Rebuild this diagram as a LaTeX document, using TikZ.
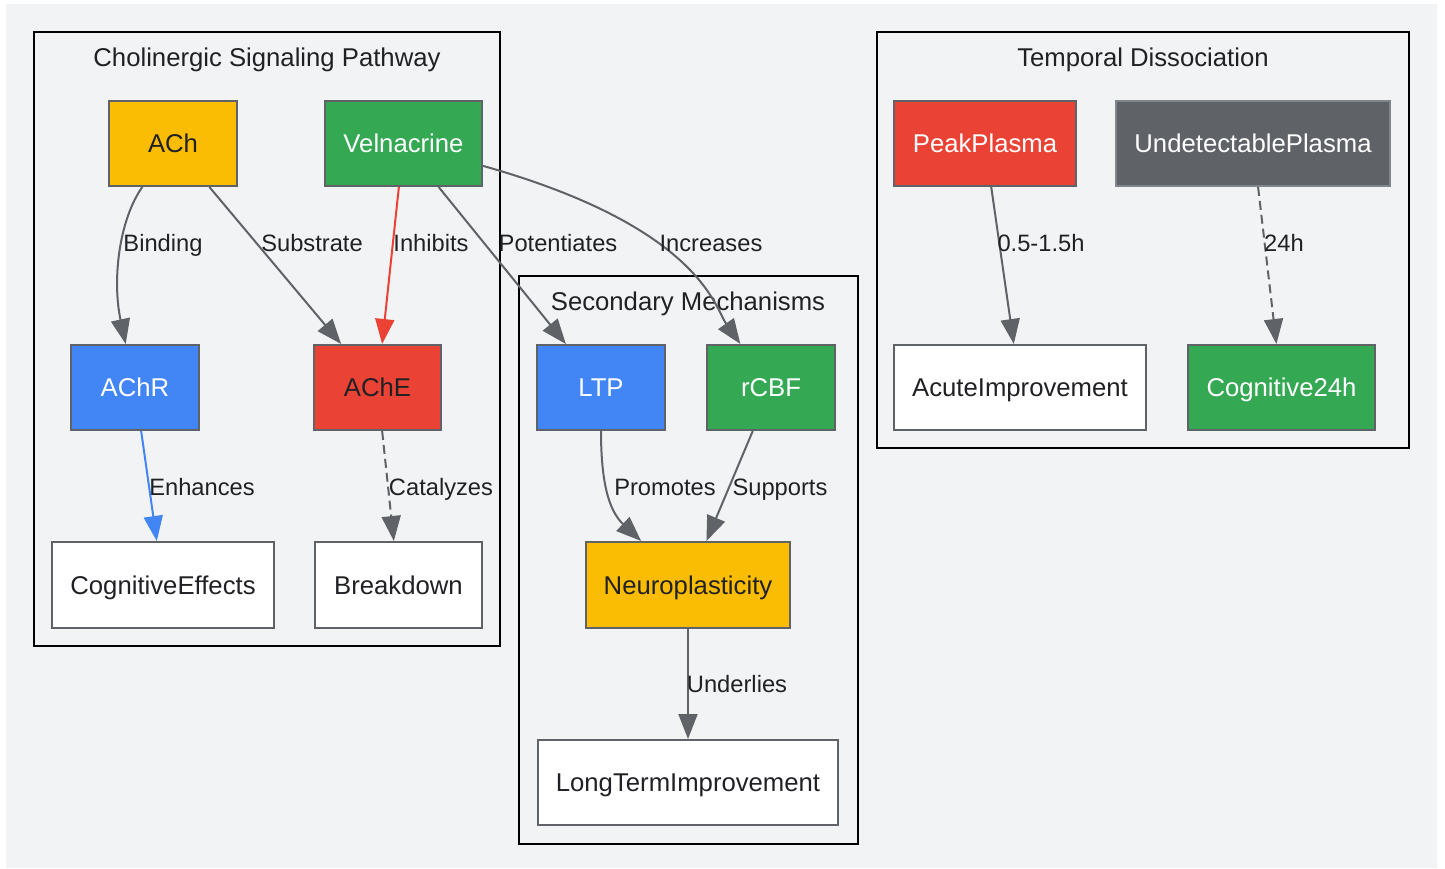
\documentclass[tikz,border=0pt]{standalone}
\usepackage{fontspec}
\setmainfont{Liberation Sans}
\usetikzlibrary{arrows.meta}
\definecolor{bgc}{HTML}{F1F3F4}
\definecolor{ngray}{HTML}{5F6368}
\definecolor{lgray}{HTML}{80868B}
\definecolor{gyel}{HTML}{FBBC04}
\definecolor{ggreen}{HTML}{34A853}
\definecolor{gblue}{HTML}{4285F4}
\definecolor{gred}{HTML}{EA4335}
\definecolor{txt}{HTML}{202124}
\begin{document}
\begin{tikzpicture}[x=1pt,y=-1pt,
  every node/.style={font=\fontsize{25.7}{30}\selectfont, text=txt, text height=18.4pt, text depth=0pt},
  box/.style={draw=ngray, line width=2pt, minimum height=85, inner sep=0pt},
  cluster/.style={draw=black, line width=2pt},
  lbl/.style={inner sep=0pt, font=\fontsize{23.7}{28}\selectfont, text height=17pt, text depth=0pt},
  ttl/.style={inner sep=0pt},
  conn/.style={draw=ngray, line width=2pt, -{Triangle[length=25pt,width=19pt]}},
  dsh/.style={dash pattern=on 9pt off 5pt}
]
\useasboundingbox (0,0) rectangle (1445,869);
\fill[bgc] (6,4) rectangle (1437,868);

% clusters
\draw[cluster] (34,32) rectangle (500,646);
\draw[cluster] (519,276) rectangle (858,844);
\draw[cluster] (877,32) rectangle (1409,448);
\node[ttl] (t1) at (267,57) {Cholinergic Signaling Pathway};
\node[ttl] (t2) at (688,301) {Secondary Mechanisms};
\node[ttl] (t3) at (1143,57) {Temporal Dissociation};

% nodes
\node[box, fill=gyel, minimum width=128] (ach) at (173,143.5) {ACh};
\node[box, fill=ggreen, minimum width=157, text=white] (vel) at (403.5,143.5) {Velnacrine};
\node[box, fill=gblue, minimum width=128, text=white] (achr) at (135,387.5) {AChR};
\node[box, fill=gred, minimum width=127] (ache) at (377.5,387.5) {AChE};
\node[box, fill=white, minimum width=222, minimum height=86] (cog) at (163,585) {CognitiveEffects};
\node[box, fill=white, minimum width=167, minimum height=86] (brk) at (398.5,585) {Breakdown};
\node[box, fill=gblue, minimum width=128, text=white] (ltp) at (601,387.5) {LTP};
\node[box, fill=ggreen, minimum width=128, text=white] (rcbf) at (771,387.5) {rCBF};
\node[box, fill=gyel, minimum width=204, minimum height=86] (neuro) at (688,585) {Neuroplasticity};
\node[box, fill=white, minimum width=300] (lti) at (688,782.5) {LongTermImprovement};
\node[box, fill=gred, minimum width=182, text=white] (peak) at (985,143.5) {PeakPlasma};
\node[box, fill=ngray, draw=lgray, minimum width=274, text=white] (undet) at (1253,143.5) {UndetectablePlasma};
\node[box, fill=white, minimum width=252] (acute) at (1020,387.5) {AcuteImprovement};
\node[box, fill=ggreen, minimum width=187, text=white] (c24) at (1281.5,387.5) {Cognitive24h};

% connectors
\draw[conn] (ach) .. controls (119,220) and (112,280) .. (achr);
\draw[conn] (ach) -- (ache);
\draw[conn, draw=gred, -{Triangle[length=25pt,width=19pt,fill=gred]}] (vel) -- (ache);
\draw[conn] (vel) -- (ltp);
\draw[conn] (vel) .. controls (700,227) and (715,308) .. (rcbf);
\draw[conn, draw=gblue] (achr) -- (cog);
\draw[conn, dsh] (ache) -- (brk);
\draw[conn] (ltp) .. controls (601,480) and (608,510) .. (neuro);
\draw[conn] (rcbf) -- (neuro);
\draw[conn] (neuro) -- (lti);
\draw[conn] (peak) -- (acute);
\draw[conn, dsh] (undet) -- (c24);

% labels
\node[lbl] (l1) at (163,243) {Binding};
\node[lbl] (l2) at (312,243) {Substrate};
\node[lbl] (l3) at (431,243) {Inhibits};
\node[lbl] (l4) at (558,243) {Potentiates};
\node[lbl] (l5) at (711,243) {Increases};
\node[lbl] (l6) at (202,487) {Enhances};
\node[lbl] (l7) at (441,487) {Catalyzes};
\node[lbl] (l8) at (665,487) {Promotes};
\node[lbl] (l9) at (780,487) {Supports};
\node[lbl] (l10) at (737,684) {Underlies};
\node[lbl] (l11) at (1041,243) {0.5-1.5h};
\node[lbl] (l12) at (1284,243) {24h};
\end{tikzpicture}
\end{document}
